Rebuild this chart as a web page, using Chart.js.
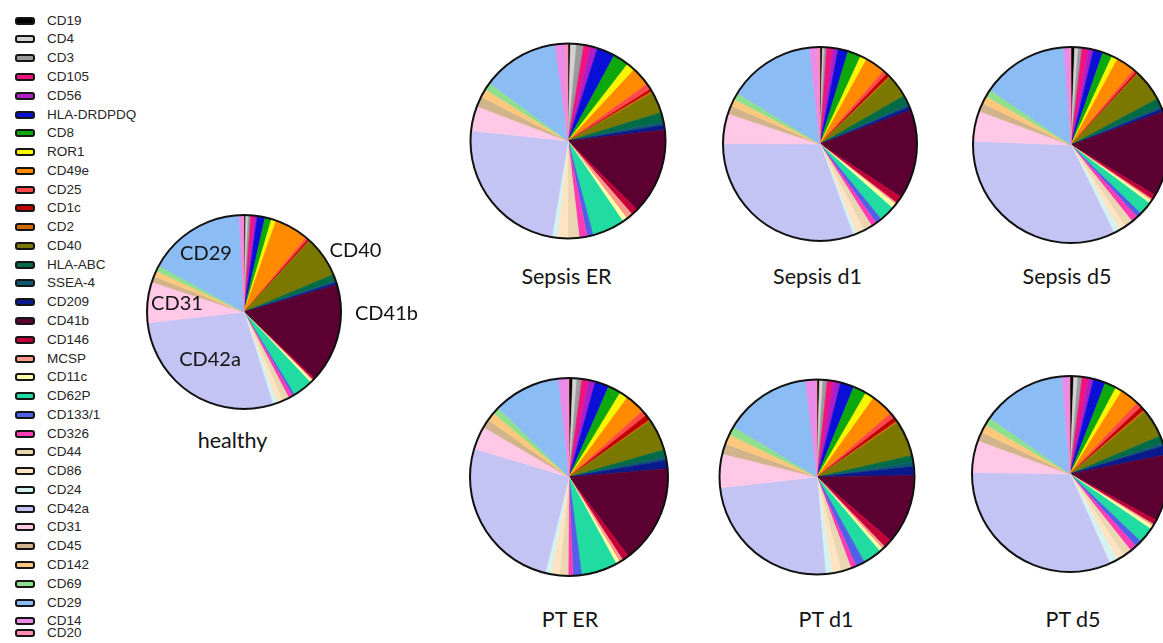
<!DOCTYPE html>
<html>
<head>
<meta charset="utf-8">
<script src="https://cdn.jsdelivr.net/npm/chart.js@4.4.0/dist/chart.umd.min.js"></script>
<style>
  html, body { margin: 0; padding: 0; background: #fff; overflow: hidden; }
  #stage { position: relative; width: 1163px; height: 643px; overflow: hidden; background: #fff; }
  .pie { position: absolute; }
  .caption {
    position: absolute; transform: translate(-50%, -50%);
    font-family: Lato, "Open Sans", sans-serif; font-size: 20px; line-height: 1;
    color: #141414; white-space: nowrap;
  }
  .caption.group { font-size: 21.5px; }
  .key { position: absolute; left: 0; height: 16px; }
  .key .sw {
    position: absolute; left: 15px; top: 4px; width: 16px; height: 4px;
    border: 2px solid #151515; border-radius: 3px;
  }
  .key .tx {
    position: absolute; left: 47px; top: 0; line-height: 16px;
    font-family: "Liberation Sans", Arial, sans-serif; font-size: 13.5px; color: #262626;
    white-space: nowrap;
  }
</style>
</head>
<body>
<div id="stage"></div>
<script>
// Surface markers, in the order they are stacked clockwise from 12 o'clock
const markers = [
  'CD19', 'CD4', 'CD3', 'CD105', 'CD56', 'HLA-DRDPDQ', 'CD8', 'ROR1', 'CD49e', 'CD25',
  'CD1c', 'CD2', 'CD40', 'HLA-ABC', 'SSEA-4', 'CD209', 'CD41b', 'CD146', 'MCSP', 'CD11c',
  'CD62P', 'CD133/1', 'CD326', 'CD44', 'CD86', 'CD24', 'CD42a', 'CD31', 'CD45', 'CD142',
  'CD69', 'CD29', 'CD14', 'CD20'
];

const markerColors = [
  '#000000', '#d2d2d2', '#9a9a9a', '#f0147e', '#b01cc8', '#0a10d8', '#0ca80c', '#fbf500', '#ff8a00', '#ff4848',
  '#c00000', '#d06a00', '#7a7800', '#006b45', '#0d5a6e', '#0a1a8c', '#5c0032', '#c4003a', '#ff9a8a', '#ffffa8',
  '#20dca0', '#5060e8', '#ff3cb4', '#ead6b0', '#ffe4c4', '#d4f2f0', '#c4c4f4', '#ffc8e6', '#d2b48c', '#ffc87c',
  '#8ee08e', '#8cbcf4', '#e88ce8', '#ff8cb4'
];

// Share of each marker (%) per sample group
const healthy   = [0.3, 0.4, 0.4, 0.7, 0.4, 1.3, 1.1, 0.8, 5.7, 0.4, 0.3, 0.1, 6.8, 1.0, 0.4, 0.4, 16.6, 0.3, 0.2, 0.4, 3.3, 0.4, 0.7, 1.1, 1.0, 0.7, 28.1, 6.8, 1.0, 1.0, 0.9, 16.3, 0.7, 0.1];
const sepsisER  = [0.4, 1.0, 1.2, 1.2, 1.1, 3.0, 2.6, 1.4, 3.2, 1.0, 0.4, 0.3, 3.5, 1.5, 0.6, 0.8, 14.3, 1.1, 1.1, 0.8, 5.4, 1.0, 1.3, 1.9, 1.7, 0.9, 24.1, 4.1, 1.7, 1.4, 1.2, 12.8, 1.7, 0.4];
const sepsisD1  = [0.4, 0.3, 0.4, 1.1, 0.8, 1.7, 2.2, 1.1, 3.4, 0.7, 0.6, 0.2, 3.8, 1.5, 0.5, 0.6, 14.9, 1.2, 0.3, 0.8, 2.6, 1.0, 0.9, 1.5, 1.3, 0.6, 30.6, 5.0, 1.4, 1.2, 1.1, 14.5, 1.3, 0.4];
const sepsisD5  = [0.6, 0.6, 0.6, 1.1, 0.8, 1.6, 1.6, 1.0, 3.2, 0.5, 0.3, 0.1, 5.2, 1.3, 0.5, 0.5, 14.1, 0.8, 0.3, 0.5, 2.2, 0.8, 1.1, 1.4, 1.1, 1.0, 32.9, 5.0, 1.4, 1.3, 1.2, 14.3, 1.1, 0.1];
const ptER      = [0.6, 0.7, 0.8, 1.1, 1.1, 2.3, 2.1, 1.4, 3.3, 0.9, 0.9, 0.2, 5.2, 1.1, 0.6, 1.4, 16.1, 1.1, 0.6, 0.6, 5.9, 1.4, 0.8, 1.4, 1.4, 0.9, 25.8, 3.8, 1.4, 1.4, 1.1, 11.0, 1.6, 0.1];
const ptD1      = [0.4, 0.6, 0.7, 1.1, 1.1, 2.3, 2.2, 1.5, 3.8, 0.9, 0.7, 0.3, 5.9, 1.1, 0.7, 1.5, 11.6, 1.4, 0.5, 0.6, 3.1, 1.5, 0.9, 1.7, 1.5, 1.1, 24.7, 5.6, 1.7, 1.7, 1.4, 14.5, 1.8, 0.1];
const ptD5      = [0.6, 0.7, 0.7, 1.1, 0.8, 2.0, 1.9, 1.1, 3.2, 0.9, 0.7, 0.3, 4.7, 1.2, 0.5, 1.5, 11.0, 0.8, 0.3, 0.6, 2.6, 1.1, 1.1, 1.4, 1.3, 1.3, 32.0, 5.3, 1.5, 1.4, 1.3, 14.0, 1.2, 0.1];

const groupNames = ['healthy', 'Sepsis ER', 'Sepsis d1', 'Sepsis d5', 'PT ER', 'PT d1', 'PT d5'];
const groupValues = [healthy, sepsisER, sepsisD1, sepsisD5, ptER, ptD1, ptD5];

// Where each pie sits (centre, radius) and where its caption goes
const layout = [
  { cx: 243.5, cy: 311.5, r: 97,   tx: 232.5, ty: 441 },
  { cx: 567.5, cy: 141,   r: 97.5, tx: 566.5, ty: 277 },
  { cx: 820,   cy: 143.5, r: 97,   tx: 817.5, ty: 277 },
  { cx: 1071,  cy: 145,   r: 98,   tx: 1067,  ty: 277 },
  { cx: 569,   cy: 477,   r: 99,   tx: 570,   ty: 620 },
  { cx: 816.5, cy: 476.5, r: 97.5, tx: 826,   ty: 620 },
  { cx: 1070,  cy: 474,   r: 98,   tx: 1073,  ty: 620 }
];

// Marker names written on and beside the healthy pie
const healthyCallouts = [
  { text: 'CD29',  x: 206,   y: 252 },
  { text: 'CD31',  x: 177,   y: 302 },
  { text: 'CD42a', x: 210,   y: 358 },
  { text: 'CD40',  x: 355.5, y: 249 },
  { text: 'CD41b', x: 386.5, y: 312 }
];

const stage = document.getElementById('stage');

// Black rim around each pie, drawn on the arc geometry the controller computed
const rimPlugin = {
  id: 'rim',
  afterDatasetsDraw(chart) {
    const arc = chart.getDatasetMeta(0).data[0];
    if (!arc) return;
    const ctx = chart.ctx;
    ctx.save();
    ctx.beginPath();
    ctx.arc(arc.x, arc.y, arc.outerRadius, 0, Math.PI * 2);
    ctx.lineWidth = 2;
    ctx.strokeStyle = '#111';
    ctx.stroke();
    ctx.restore();
  }
};

const SIZE = 210;
groupValues.forEach((values, i) => {
  const pos = layout[i];
  const canvas = document.createElement('canvas');
  canvas.className = 'pie';
  canvas.width = SIZE;
  canvas.height = SIZE;
  canvas.style.left = (pos.cx - SIZE / 2) + 'px';
  canvas.style.top = (pos.cy - SIZE / 2) + 'px';
  stage.appendChild(canvas);

  new Chart(canvas, {
    type: 'pie',
    data: {
      labels: markers,
      datasets: [{
        data: values,
        backgroundColor: markerColors,
        borderColor: markerColors,
        borderWidth: 0.6,
        radius: pos.r
      }]
    },
    options: {
      responsive: false,
      animation: false,
      events: [],
      layout: { padding: 0 },
      plugins: { legend: { display: false }, tooltip: { enabled: false } }
    },
    plugins: [rimPlugin]
  });

  const cap = document.createElement('div');
  cap.className = 'caption group';
  cap.textContent = groupNames[i];
  cap.style.left = pos.tx + 'px';
  cap.style.top = pos.ty + 'px';
  stage.appendChild(cap);
});

healthyCallouts.forEach(c => {
  const d = document.createElement('div');
  d.className = 'caption';
  d.textContent = c.text;
  d.style.left = c.x + 'px';
  d.style.top = c.y + 'px';
  stage.appendChild(d);
});

// Marker key down the left edge; the last entry is squeezed against the bottom
markers.forEach((name, i) => {
  const yc = i < markers.length - 1 ? 20.7 + i * 18.77 : 632.5;
  const row = document.createElement('div');
  row.className = 'key';
  row.style.top = (yc - 8) + 'px';
  const sw = document.createElement('div');
  sw.className = 'sw';
  sw.style.background = markerColors[i];
  const tx = document.createElement('div');
  tx.className = 'tx';
  tx.textContent = name;
  row.appendChild(sw);
  row.appendChild(tx);
  stage.appendChild(row);
});
</script>
</body>
</html>
